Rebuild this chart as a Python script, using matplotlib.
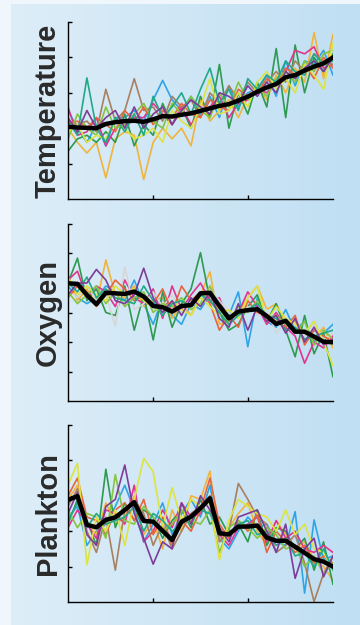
import numpy as np
import matplotlib
matplotlib.use("Agg")
import matplotlib.pyplot as plt

# x = time steps, ticks only (no labels)
steps = np.arange(1, 30)

line_colors = ['#2fa4e7', '#f0b43c', '#2e9a50', '#e0358f', '#a88060',
               '#e8643c', '#86c440', '#dde440', '#22a887', '#7d3c98']

# ---- Temperature ----
temp_mean = [2.04, 2.02, 2.01, 2.00, 2.12, 2.17, 2.20, 2.21, 2.18, 2.25, 2.34, 2.33, 2.38, 2.42, 2.49,
             2.56, 2.63, 2.68, 2.78, 2.89, 3.03, 3.15, 3.25, 3.44, 3.50, 3.63, 3.74, 3.83, 4.00]
temp_blue = [2.5, 2.0, 1.6, 2.1, 1.5, 2.3, 2.3, 2.5, 2.2, 2.8, 3.35, 2.8, 2.5, 2.9, 2.4, 2.9, 2.3, 3.2, 2.6, 3.0, 3.1, 3.5, 2.9, 3.9, 3.2, 3.9, 3.8, 4.2, 3.5]
temp_orange = [2.0, 1.6, 1.3, 1.6, 0.6, 1.7, 1.9, 1.8, 0.55, 1.6, 2.0, 1.7, 2.0, 1.5, 2.8, 2.2, 2.5, 2.8, 2.3, 2.9, 3.2, 2.8, 3.5, 3.0, 3.7, 3.3, 4.7, 3.4, 4.65]
temp_green = [1.35, 1.7, 1.8, 1.6, 1.9, 1.6, 2.4, 1.5, 2.1, 1.8, 2.7, 2.1, 2.6, 2.0, 2.9, 2.3, 3.8, 2.0, 3.0, 2.4, 3.3, 2.6, 4.25, 2.3, 4.35, 3.0, 4.0, 3.6, 4.1]
temp_magenta = [2.6, 1.8, 1.9, 2.3, 1.5, 2.0, 2.2, 2.3, 2.3, 2.7, 2.4, 2.1, 2.6, 2.1, 2.5, 2.6, 2.9, 2.3, 2.7, 2.8, 3.1, 3.0, 3.3, 3.6, 4.2, 4.1, 4.3, 3.7, 3.8]
temp_brown = [2.2, 2.1, 2.2, 1.9, 3.1, 2.2, 2.5, 3.4, 2.5, 2.6, 2.2, 2.9, 2.6, 2.8, 2.3, 3.0, 2.7, 3.2, 2.8, 3.3, 3.0, 3.3, 3.6, 3.3, 3.9, 3.6, 4.1, 3.9, 3.8]
temp_red = [2.1, 2.2, 2.0, 2.3, 2.1, 1.9, 2.5, 2.2, 2.6, 2.1, 2.5, 2.3, 2.7, 2.4, 2.3, 2.8, 2.6, 2.5, 3.1, 2.9, 3.0, 3.4, 3.2, 3.7, 3.5, 3.8, 3.4, 4.0, 3.7]
temp_lgreen = [1.7, 2.4, 2.0, 1.8, 2.6, 2.0, 2.1, 2.4, 2.7, 2.2, 2.0, 2.7, 2.4, 2.9, 2.5, 2.3, 3.0, 2.6, 3.3, 2.8, 3.2, 2.9, 3.4, 3.6, 3.3, 3.9, 3.6, 4.1, 4.2]
temp_yellow = [1.9, 2.1, 1.6, 1.8, 1.7, 2.2, 2.0, 1.7, 1.8, 2.0, 1.6, 2.5, 2.2, 2.0, 2.6, 3.4, 2.4, 2.5, 3.0, 2.6, 3.3, 3.6, 3.1, 3.4, 3.0, 3.8, 3.5, 3.1, 4.4]
temp_teal = [2.2, 1.8, 3.42, 2.0, 1.6, 2.3, 1.9, 2.4, 1.8, 2.9, 2.3, 2.6, 3.0, 2.4, 3.1, 3.7, 2.7, 3.1, 2.5, 3.4, 3.1, 3.5, 3.3, 3.9, 3.6, 3.5, 4.1, 3.8, 3.9]
temp_purple = [2.3, 1.9, 2.5, 2.0, 2.3, 2.5, 2.0, 2.6, 2.0, 2.4, 2.6, 2.1, 2.5, 2.8, 2.6, 2.4, 3.0, 2.9, 2.7, 3.2, 2.9, 3.3, 3.0, 3.6, 3.4, 3.7, 3.9, 3.6, 4.0]

# ---- Oxygen ----
oxy_mean = [3.99, 3.97, 3.59, 3.28, 3.67, 3.65, 3.63, 3.71, 3.54, 3.22, 3.18, 3.03, 3.22, 3.25, 3.65,
            3.67, 3.22, 2.80, 3.03, 3.08, 3.11, 2.88, 2.61, 2.72, 2.35, 2.35, 2.18, 2.01, 1.99]
oxy_blue = [3.9, 3.5, 3.3, 3.5, 3.9, 3.7, 3.4, 4.1, 3.3, 2.6, 3.5, 2.9, 2.6, 3.3, 3.1, 3.6, 3.3, 2.9, 3.7, 1.84, 3.5, 2.7, 2.5, 3.1, 2.4, 2.7, 2.0, 2.3, 2.6]
oxy_orange = [4.3, 3.4, 3.8, 3.3, 4.78, 3.6, 3.5, 3.9, 3.2, 3.4, 3.5, 2.8, 3.3, 2.9, 3.6, 4.38, 2.6, 2.7, 3.0, 3.5, 3.9, 3.1, 3.3, 2.6, 2.7, 2.3, 2.1, 2.5, 1.8]
oxy_green = [4.0, 4.84, 3.4, 3.8, 3.0, 2.9, 3.9, 2.4, 3.6, 2.07, 3.7, 2.5, 3.3, 3.8, 5.03, 3.4, 3.0, 2.4, 2.6, 3.2, 3.6, 2.7, 3.3, 2.4, 1.5, 2.9, 1.6, 2.3, 0.82]
oxy_magenta = [4.1, 4.4, 3.5, 3.9, 3.7, 3.2, 4.1, 3.5, 3.3, 3.8, 2.8, 3.9, 3.1, 3.6, 4.0, 3.4, 3.5, 2.7, 3.0, 3.7, 3.2, 2.6, 3.0, 2.5, 2.2, 1.28, 2.0, 1.8, 2.2]
oxy_grey = [3.8, 3.5, 3.9, 3.4, 3.6, 2.54, 4.55, 3.1, 3.3, 3.7, 3.2, 3.6, 3.0, 3.4, 3.5, 3.8, 3.4, 3.0, 2.8, 3.2, 2.9, 3.1, 2.3, 2.7, 2.4, 2.2, 2.6, 2.1, 2.3]
oxy_red = [3.5, 3.9, 3.7, 3.2, 3.6, 4.1, 3.8, 3.4, 3.6, 3.3, 3.8, 3.0, 3.9, 3.4, 3.7, 3.3, 2.4, 2.9, 2.5, 3.4, 3.0, 2.9, 2.7, 2.5, 2.9, 1.9, 2.4, 2.2, 2.0]
oxy_lgreen = [3.7, 3.3, 3.6, 3.9, 3.3, 3.7, 3.2, 3.5, 3.7, 3.0, 3.3, 3.2, 3.5, 3.1, 3.3, 3.9, 3.1, 2.7, 3.2, 3.0, 3.4, 2.8, 2.9, 2.6, 2.3, 2.7, 1.9, 2.4, 2.1]
oxy_yellow = [4.2, 3.6, 3.9, 3.6, 3.4, 3.9, 3.6, 3.8, 3.4, 3.2, 3.0, 3.4, 3.1, 2.9, 3.5, 3.2, 2.9, 3.1, 2.8, 3.5, 3.9, 2.7, 3.2, 2.8, 2.6, 2.3, 2.7, 2.0, 1.2]
oxy_teal = [4.0, 3.7, 4.2, 3.5, 3.8, 3.5, 3.4, 3.3, 3.9, 3.4, 2.9, 3.3, 3.4, 3.2, 3.6, 3.4, 3.0, 2.6, 2.9, 3.1, 3.3, 2.9, 2.8, 2.4, 2.5, 2.1, 2.2, 2.3, 2.4]
oxy_purple = [3.6, 4.0, 4.0, 4.46, 4.1, 3.4, 3.3, 3.6, 4.5, 3.5, 3.0, 3.4, 2.9, 3.5, 3.2, 3.7, 2.8, 2.5, 3.3, 2.4, 3.2, 2.7, 2.9, 2.3, 2.8, 2.0, 2.5, 1.9, 2.1]

# ---- Plankton ----
plank_mean = [2.88, 2.99, 2.18, 2.11, 2.32, 2.39, 2.60, 2.82, 2.29, 2.27, 2.01, 1.75, 2.27, 2.41, 2.65,
              2.93, 1.94, 1.91, 2.13, 2.13, 2.16, 1.82, 1.73, 1.73, 1.56, 1.39, 1.21, 1.14, 1.00]
plank_blue = [2.4, 2.7, 1.6, 2.0, 2.2, 2.7, 3.3, 2.6, 1.7, 2.2, 2.8, 1.9, 2.5, 2.9, 2.4, 3.3, 1.8, 1.5, 2.0, 2.4, 2.1, 2.2, 1.7, 1.6, 2.55, 0.25, 2.32, 1.2, 1.3]
plank_orange = [2.9, 3.3, 2.2, 1.9, 2.8, 2.2, 2.4, 3.0, 1.9, 2.3, 1.5, 2.6, 2.0, 3.0, 2.9, 3.70, 1.7, 2.1, 2.5, 2.8, 2.0, 1.6, 2.3, 1.9, 1.5, 1.7, 1.2, 1.0, 0.6]
plank_green = [2.2, 2.9, 2.3, 1.6, 3.75, 2.1, 2.8, 2.3, 2.6, 2.4, 1.8, 2.3, 2.6, 2.1, 2.9, 2.2, 2.4, 1.9, 2.2, 1.7, 2.6, 1.6, 2.1, 2.0, 1.5, 1.8, 0.9, 1.7, 0.5]
plank_magenta = [2.1, 2.6, 2.2, 1.8, 2.6, 2.5, 2.2, 3.3, 1.7, 2.0, 2.6, 2.1, 2.8, 2.4, 2.5, 3.0, 1.9, 1.6, 2.1, 2.2, 2.4, 1.7, 2.3, 1.8, 2.0, 1.5, 1.4, 1.6, 1.4]
plank_brown = [2.7, 3.2, 2.0, 1.4, 2.4, 0.9, 2.6, 2.9, 2.5, 1.6, 2.2, 1.5, 2.0, 2.5, 2.7, 3.0, 1.7, 2.0, 3.35, 2.9, 2.4, 2.2, 1.4, 1.6, 1.9, 1.1, 0.01, 0.8, 1.3]
plank_red = [3.0, 3.5, 2.4, 2.3, 1.9, 2.6, 2.8, 2.3, 2.9, 1.9, 2.4, 1.6, 2.3, 2.0, 2.6, 3.5, 2.2, 1.8, 2.3, 2.0, 2.5, 1.4, 2.0, 1.7, 1.4, 1.6, 1.1, 1.3, 1.1]
plank_lgreen = [2.6, 2.1, 2.5, 2.4, 1.8, 3.6, 2.3, 2.2, 2.7, 2.4, 2.0, 2.2, 2.6, 2.3, 2.2, 2.6, 1.4, 2.1, 2.3, 2.1, 1.8, 2.1, 1.9, 1.5, 1.6, 1.0, 1.3, 0.8, 1.1]
plank_yellow = [3.3, 3.92, 1.05, 2.4, 2.0, 2.6, 1.6, 2.9, 4.06, 3.68, 2.1, 3.23, 2.3, 2.9, 2.7, 2.8, 1.19, 2.3, 2.9, 2.7, 2.5, 2.4, 2.0, 2.6, 1.9, 2.2, 1.5, 1.4, 0.9]
plank_teal = [2.3, 2.8, 2.1, 2.5, 2.2, 2.3, 2.4, 2.7, 2.0, 2.5, 2.3, 2.0, 2.2, 2.4, 2.6, 2.5, 2.0, 1.9, 2.2, 2.3, 1.9, 2.0, 1.6, 1.8, 1.3, 1.4, 1.0, 1.5, 0.9]
plank_purple = [2.5, 3.1, 1.9, 1.6, 2.7, 2.9, 3.87, 2.5, 1.8, 1.07, 1.7, 1.5, 2.8, 2.2, 3.0, 2.6, 2.1, 1.7, 2.4, 2.5, 2.6, 2.0, 1.4, 2.2, 0.67, 1.5, 1.8, 0.71, 1.3]

panels = [
    ("Temperature", 5, [temp_blue, temp_orange, temp_green, temp_magenta, temp_brown, temp_red,
                        temp_lgreen, temp_yellow, temp_teal, temp_purple], temp_mean),
    ("Oxygen", 6, [oxy_blue, oxy_orange, oxy_green, oxy_magenta, oxy_grey, oxy_red,
                   oxy_lgreen, oxy_yellow, oxy_teal, oxy_purple], oxy_mean),
    ("Plankton", 5, [plank_blue, plank_orange, plank_green, plank_magenta, plank_brown, plank_red,
                     plank_lgreen, plank_yellow, plank_teal, plank_purple], plank_mean),
]

fig = plt.figure(figsize=(3.6, 6.25), dpi=100)

# light blue gradient background
bg = fig.add_axes([0, 0, 1, 1], zorder=-10)
W, H = 360, 625
t = np.linspace(0, 1, W)
left_c = np.array([222, 238, 248]) / 255
right_c = np.array([192, 223, 243]) / 255
row = left_c[None, :] * (1 - t[:, None]) + right_c[None, :] * t[:, None]
img = np.repeat(row[None, :, :], H, axis=0)
img[:, :11] = np.array([240, 247, 252]) / 255
img[:4, :] = np.array([240, 247, 252]) / 255
bg.imshow(img, aspect='auto', extent=[0, 1, 0, 1])
bg.axis('off')

bottoms = [1 - 199 / 625, 1 - 401 / 625, 1 - 602 / 625]
for (name, ytop, series, mean), b in zip(panels, bottoms):
    ax = fig.add_axes([68 / 360, b, 265 / 360, 177 / 625])
    ax.patch.set_alpha(0)
    for s, c in zip(series, line_colors):
        if name == "Oxygen" and s is oxy_grey:
            c = '#d6d6d6'
        ax.plot(steps, s, color=c, lw=1.2)
    ax.plot(steps, mean, color='black', lw=3.2, solid_joinstyle='round')
    ax.set_xlim(1, 29)
    ax.set_ylim(0, ytop)
    ax.set_xticks([10, 20])
    ax.set_yticks(range(1, ytop + 1))
    ax.set_xticklabels([])
    ax.set_yticklabels([])
    ax.tick_params(direction='in', length=3, width=1, color='black')
    for sp in ['top', 'right']:
        ax.spines[sp].set_visible(False)
    for sp in ['left', 'bottom']:
        ax.spines[sp].set_linewidth(1.0)
    yc = b + 177 / 625 / 2
    fig.text(56 / 360, yc, name, rotation=90, rotation_mode='anchor',
             ha='center', va='baseline', fontsize=21, fontweight='bold',
             family=['Liberation Sans', 'DejaVu Sans'], color='#2a2a2a')

fig.savefig('out.png', dpi=100)
